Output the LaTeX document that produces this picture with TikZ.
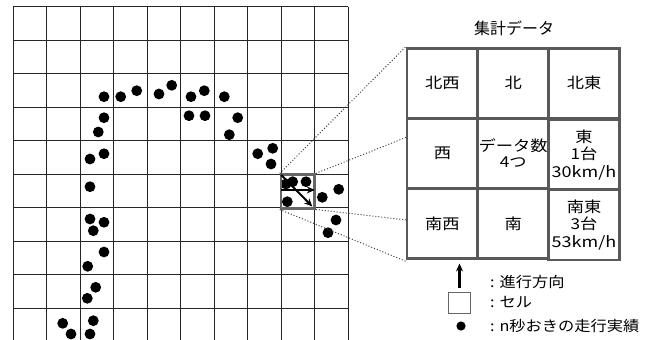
\documentclass[tikz,border=0pt]{standalone}
\usepackage{fontspec}
\setmainfont{Noto Sans CJK JP}
\newfontfamily\cellfont[FakeStretch=1.15]{Noto Sans CJK JP}
\newfontfamily\unitfont[FakeStretch=1.2]{Noto Sans CJK JP}
\newfontfamily\legfont[FakeStretch=1.12]{Noto Sans CJK JP}
\usetikzlibrary{arrows.meta}
\begin{document}
\begin{tikzpicture}[x=1pt,y=-1pt,
  gridline/.style={draw=black!85,line width=1pt},
  dot/.style={fill=black},
  hlcell/.style={draw=black!60,line width=2.6pt,minimum width=33.5pt,minimum height=33.5pt,inner sep=0pt},
  dirarrow/.style={draw=black,line width=2pt,-{Stealth[length=8pt,width=7pt]}},
  cellbox/.style={draw=black!65,line width=2.8pt,minimum width=70.8pt,minimum height=70pt,inner sep=0pt,align=center,font=\cellfont\fontsize{15}{17.5}\selectfont},
  connector/.style={draw=black!75,line width=1pt,dotted},
  legtext/.style={anchor=west,inner sep=0pt,font=\legfont\fontsize{14.5}{16}\selectfont}]
\useasboundingbox (0,0) rectangle (656,340);
\fill[white] (0,0) rectangle (656,340);
% grid
\begin{scope}
\clip (0,0) rectangle (656,340);
\foreach \i in {0,...,10} {
  \draw[gridline] (13+33.5*\i,6.7) -- (13+33.5*\i,340);
}
\foreach \i in {0,...,9} {
  \draw[gridline] (13,6.7+33.5*\i) -- (348,6.7+33.5*\i);
}
\end{scope}
% track dots
\foreach \p in {(104,96.7),(120.7,96.7),(136.7,90.7),(159,94),(171.7,85.3),(191,96.7),(204.3,90.7),(224.3,96.7),
  (104,117.7),(98.3,132),(189,115.7),(205,115.7),(237.7,117.7),(229.3,134.7),(104,153.7),(90,159),
  (257.7,153.7),(272.7,148.3),(271,164),
  (90,186.7),(90,219),(104,222.3),(93.3,230.7),(104,252),(87.7,266.3),(95.7,287.3),(87.3,298.3),
  (62.7,323.3),(71,334),(93.3,320.7),(90,334),
  (338.7,189.3),(322.3,197.3),(336,220),(328,232.7),
  (292.7,181.7),(306,181.7),(287.3,201.7),(286,184)}
  \fill[dot] \p circle (5.4);
% highlighted cell
\node[hlcell] (hl) at (297.75,191.45) {};
\draw[dirarrow] ([shift={(1.5,1.5)}]hl.north west) -- ([shift={(-3.5,-3)}]hl.south east);
\draw[dirarrow] ([shift={(1.5,-1.5)}]hl.west) -- ([shift={(-1,-1.5)}]hl.east);
% table
\node (title) at (514,28.3) {\fontsize{16}{18}\selectfont 集計データ};
\node[cellbox] (c11) at (442.4,83.3) {北西};
\node[cellbox] (c12) at (513.2,83.3) {北};
\node[cellbox] (c13) at (584,83.3) {北東};
\node[cellbox] (c21) at (442.4,153.3) {西};
\node[cellbox,font=\cellfont\fontsize{15}{16}\selectfont] (c22) at (513.2,153.3) {データ数\\4つ};
\node[cellbox] (c23) at (584,154.8) {東\\1台\\{\unitfont 30km/h}};
\node[cellbox] (c31) at (442.4,223.3) {南西};
\node[cellbox] (c32) at (513.2,223.3) {南};
\node[cellbox] (c33) at (584,225) {南東\\3台\\{\unitfont 53km/h}};
% projection lines
\coordinate (t2) at (407,137);
\coordinate (t3) at (407,220);
\draw[connector] (hl.north west) -- (c11.north west);
\draw[connector] (hl.north east) -- (t2);
\draw[connector] (hl.south east) -- (t3);
\draw[connector] (hl.south west) -- ([yshift=-1.5pt]c31.south west);
% legend
\coordinate (la1) at (459.5,287.5);
\coordinate (la2) at (459.5,263.5);
\draw[draw=black,line width=2.4pt,-{Stealth[length=8pt,width=7pt]}] (la1) -- (la2);
\node[draw=black!60,line width=1pt,minimum width=22.5pt,minimum height=20.5pt,inner sep=0pt] (lsq) at (459.7,303) {};
\fill[dot] (461,326) circle (4.6);
\node[legtext] (l1) at (490,281.7) {: 進行方向};
\node[legtext] (l2) at (490,301.7) {: セル};
\node[legtext] (l3) at (490,326) {: n秒おきの走行実績};
\end{tikzpicture}
\end{document}
